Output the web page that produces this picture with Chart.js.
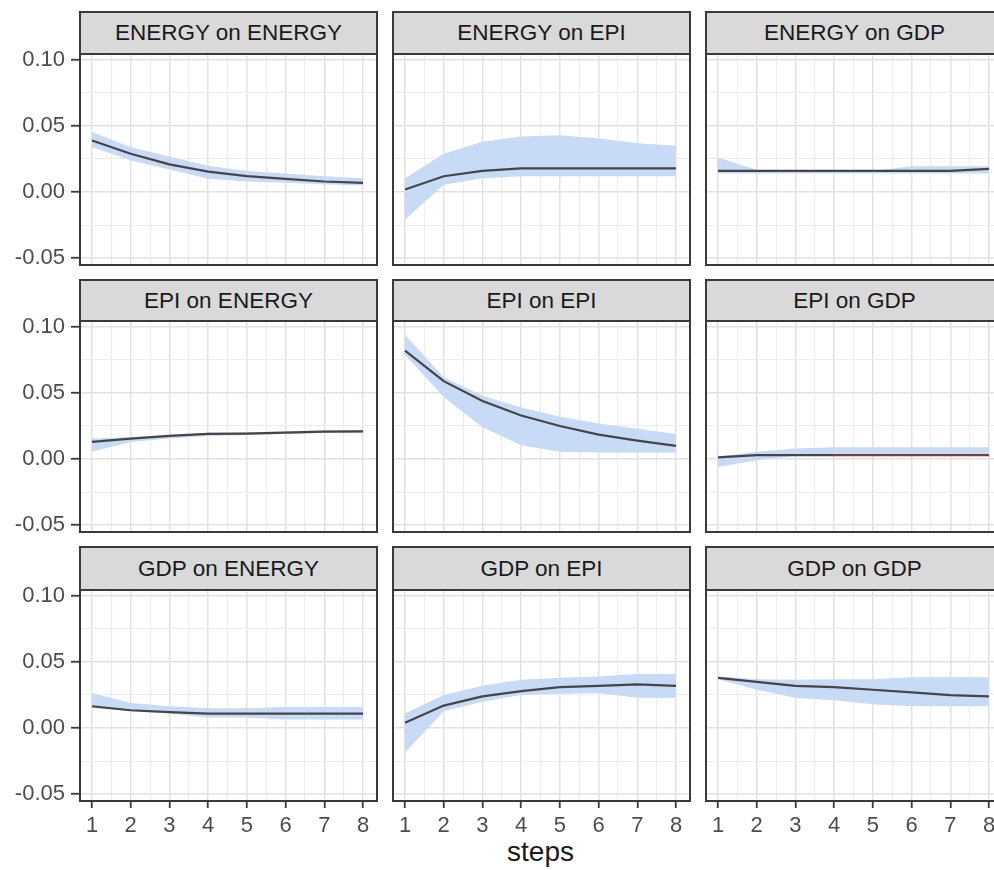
<!DOCTYPE html>
<html>
<head>
<meta charset="utf-8">
<script src="https://cdn.jsdelivr.net/npm/chart.js@4"></script>
<style>
  body { margin: 0; width: 994px; height: 870px; overflow: hidden; background: #fff; position: relative;
         font-family: "Liberation Sans", Arial, sans-serif; }
  .strip { position: absolute; box-sizing: border-box; background: #d9d9d9; border: 2px solid #3a3a3a;
           color: #1a1a1a; font-size: 22.5px; text-align: center; }
  .frame { position: absolute; box-sizing: border-box; border: 2px solid #3a3a3a; pointer-events: none; }
  canvas { position: absolute; }
  #xtitle { position: absolute; left: 392px; width: 297px; top: 836px; text-align: center; font-size: 28px; color: #1a1a1a; }
</style>
</head>
<body>
<div id="xtitle">steps</div>
<script>
const steps = [1, 2, 3, 4, 5, 6, 7, 8];
const yMajor = [-0.05, 0, 0.05, 0.10];
const yMinor = [-0.025, 0.025, 0.075];
const xMinor = [1.5, 2.5, 3.5, 4.5, 5.5, 6.5, 7.5];

const titles = ['ENERGY on ENERGY', 'ENERGY on EPI', 'ENERGY on GDP',
                'EPI on ENERGY', 'EPI on EPI', 'EPI on GDP',
                'GDP on ENERGY', 'GDP on EPI', 'GDP on GDP'];

const energyOnEnergy   = [0.039, 0.029, 0.021, 0.0155, 0.012, 0.010, 0.008, 0.007];
const energyOnEnergyLo = [0.034, 0.024, 0.017, 0.010, 0.008, 0.007, 0.006, 0.005];
const energyOnEnergyHi = [0.0455, 0.034, 0.027, 0.020, 0.016, 0.014, 0.012, 0.0105];

const energyOnEpi   = [0.002, 0.012, 0.016, 0.018, 0.018, 0.018, 0.018, 0.018];
const energyOnEpiLo = [-0.021, 0.0055, 0.0105, 0.012, 0.012, 0.012, 0.012, 0.012];
const energyOnEpiHi = [0.0105, 0.029, 0.038, 0.042, 0.043, 0.0405, 0.037, 0.035];

const energyOnGdp   = [0.016, 0.016, 0.016, 0.016, 0.016, 0.016, 0.016, 0.0175];
const energyOnGdpLo = [0.014, 0.014, 0.014, 0.014, 0.014, 0.014, 0.014, 0.014];
const energyOnGdpHi = [0.026, 0.0168, 0.016, 0.016, 0.016, 0.0195, 0.0195, 0.0195];

const epiOnEnergy   = [0.013, 0.0155, 0.0175, 0.019, 0.0193, 0.020, 0.0208, 0.021];
const epiOnEnergyLo = [0.0055, 0.013, 0.0155, 0.0175, 0.0183, 0.019, 0.0198, 0.020];
const epiOnEnergyHi = [0.0155, 0.0165, 0.0185, 0.020, 0.0203, 0.021, 0.0218, 0.022];

const epiOnEpi   = [0.082, 0.059, 0.044, 0.033, 0.025, 0.0185, 0.014, 0.010];
const epiOnEpiLo = [0.079, 0.047, 0.024, 0.0105, 0.0055, 0.005, 0.005, 0.005];
const epiOnEpiHi = [0.094, 0.062, 0.048, 0.039, 0.032, 0.027, 0.023, 0.019];

const epiOnGdp   = [0.0013, 0.003, 0.003, 0.003, 0.003, 0.003, 0.003, 0.003];
const epiOnGdpLo = [-0.006, -0.0008, 0.0025, 0.003, 0.003, 0.003, 0.003, 0.003];
const epiOnGdpHi = [0.002, 0.0055, 0.008, 0.009, 0.009, 0.009, 0.009, 0.009];

const gdpOnEnergy   = [0.0165, 0.0135, 0.012, 0.011, 0.011, 0.011, 0.011, 0.011];
const gdpOnEnergyLo = [0.015, 0.0128, 0.011, 0.008, 0.008, 0.0065, 0.0065, 0.0065];
const gdpOnEnergyHi = [0.0265, 0.019, 0.0165, 0.015, 0.015, 0.016, 0.016, 0.016];

const gdpOnEpi   = [0.004, 0.017, 0.024, 0.028, 0.031, 0.032, 0.033, 0.032];
const gdpOnEpiLo = [-0.0185, 0.0128, 0.020, 0.025, 0.026, 0.0265, 0.023, 0.023];
const gdpOnEpiHi = [0.011, 0.025, 0.032, 0.0365, 0.038, 0.039, 0.041, 0.041];

const gdpOnGdp   = [0.038, 0.035, 0.032, 0.031, 0.029, 0.027, 0.025, 0.024];
const gdpOnGdpLo = [0.037, 0.029, 0.023, 0.021, 0.018, 0.0165, 0.0165, 0.0165];
const gdpOnGdpHi = [0.039, 0.037, 0.0365, 0.037, 0.037, 0.0385, 0.0385, 0.0385];

const series = [
  [energyOnEnergy, energyOnEnergyLo, energyOnEnergyHi],
  [energyOnEpi, energyOnEpiLo, energyOnEpiHi],
  [energyOnGdp, energyOnGdpLo, energyOnGdpHi],
  [epiOnEnergy, epiOnEnergyLo, epiOnEnergyHi],
  [epiOnEpi, epiOnEpiLo, epiOnEpiHi],
  [epiOnGdp, epiOnGdpLo, epiOnGdpHi],
  [gdpOnEnergy, gdpOnEnergyLo, gdpOnEnergyHi],
  [gdpOnEpi, gdpOnEpiLo, gdpOnEpiHi],
  [gdpOnGdp, gdpOnGdpLo, gdpOnGdpHi]
];

// panel geometry (plot area of each facet)
const colLeft = [80, 393, 706];
const rowTop = [54, 321, 590];
const stripTop = [11, 279, 546];
const panelW = 297, panelH = 211;
const axisW = 80, axisH = 60, padTop = 16;

const font = { family: '"Liberation Sans", Arial, sans-serif', size: 22 };
const band = 'rgb(199,218,246)';
const lineColor = '#454545';

const isMajorY = v => Math.abs(v * 20 - Math.round(v * 20)) < 1e-9;
const pts = arr => arr.map((v, i) => ({ x: steps[i], y: v }));

series.forEach((s, k) => {
  const col = k % 3, row = Math.floor(k / 3);
  const x0 = colLeft[col], y0 = rowTop[row];

  const strip = document.createElement('div');
  strip.className = 'strip';
  strip.style.left = (x0 - 1) + 'px';
  strip.style.top = stripTop[row] + 'px';
  strip.style.width = (panelW + 2) + 'px';
  strip.style.height = (y0 - stripTop[row] + 1) + 'px';
  strip.style.lineHeight = (y0 - stripTop[row] - 3) + 'px';
  strip.textContent = titles[k];
  document.body.appendChild(strip);

  const left = col === 0 ? axisW : 0;
  const bottom = row === 2 ? axisH : 0;
  const canvas = document.createElement('canvas');
  canvas.width = panelW + left;
  canvas.height = panelH + bottom + padTop;
  canvas.style.left = (x0 - left) + 'px';
  canvas.style.top = (y0 - padTop) + 'px';
  document.body.appendChild(canvas);

  const frame = document.createElement('div');
  frame.className = 'frame';
  frame.style.left = (x0 - 1) + 'px';
  frame.style.top = (y0 - 1) + 'px';
  frame.style.width = (panelW + 2) + 'px';
  frame.style.height = (panelH + 2) + 'px';
  document.body.appendChild(frame);

  new Chart(canvas.getContext('2d'), {
    type: 'line',
    data: {
      datasets: [
        { data: pts(s[1]), borderWidth: 0, pointRadius: 0, fill: false, order: 2 },
        { data: pts(s[2]), borderWidth: 0, pointRadius: 0, fill: '-1', backgroundColor: band, order: 1 },
        {
          data: pts(s[0]), borderColor: lineColor, borderWidth: 2.2, pointRadius: 0, fill: false, order: 0,
          segment: { borderColor: c => (k === 5 && c.p0.parsed.x >= 4) ? '#7a3c36' : lineColor }
        }
      ]
    },
    options: {
      responsive: false,
      animation: false,
      events: [],
      layout: { padding: { top: padTop, left: 0, right: 0, bottom: 0 } },
      plugins: { legend: { display: false }, tooltip: { enabled: false } },
      scales: {
        x: {
          type: 'linear', min: 0.69, max: 8.36,
          afterBuildTicks: sc => { sc.ticks = [...steps, ...xMinor].sort((a, b) => a - b).map(v => ({ value: v })); },
          afterFit: sc => { sc.height = bottom; sc.paddingLeft = 0; sc.paddingRight = 0; },
          border: { display: false },
          grid: {
            color: c => Number.isInteger(c.tick.value) ? '#e2e2e2' : '#ededed',
            lineWidth: c => Number.isInteger(c.tick.value) ? 1.5 : 1.1,
            drawTicks: row === 2,
            tickLength: 7,
            tickWidth: 1.8,
            tickColor: c => Number.isInteger(c.tick.value) ? '#3a3a3a' : 'rgba(0,0,0,0)'
          },
          ticks: {
            display: row === 2, autoSkip: false, maxRotation: 0, padding: 5,
            font: font, color: '#4d4d4d',
            callback: v => Number.isInteger(v) ? String(v) : ''
          }
        },
        y: {
          min: -0.0552, max: 0.1045,
          afterBuildTicks: sc => { sc.ticks = [...yMajor, ...yMinor].sort((a, b) => a - b).map(v => ({ value: v })); },
          afterFit: sc => { sc.width = left; sc.paddingTop = 0; sc.paddingBottom = 0; },
          border: { display: false },
          grid: {
            color: c => isMajorY(c.tick.value) ? '#e2e2e2' : '#ededed',
            lineWidth: c => isMajorY(c.tick.value) ? 1.5 : 1.1,
            drawTicks: col === 0,
            tickLength: 9,
            tickWidth: 1.8,
            tickColor: c => isMajorY(c.tick.value) ? '#3a3a3a' : 'rgba(0,0,0,0)'
          },
          ticks: {
            display: col === 0, padding: 6,
            font: font, color: '#4d4d4d',
            callback: v => isMajorY(v) ? v.toFixed(2) : ''
          }
        }
      }
    }
  });
});
</script>
</body>
</html>
